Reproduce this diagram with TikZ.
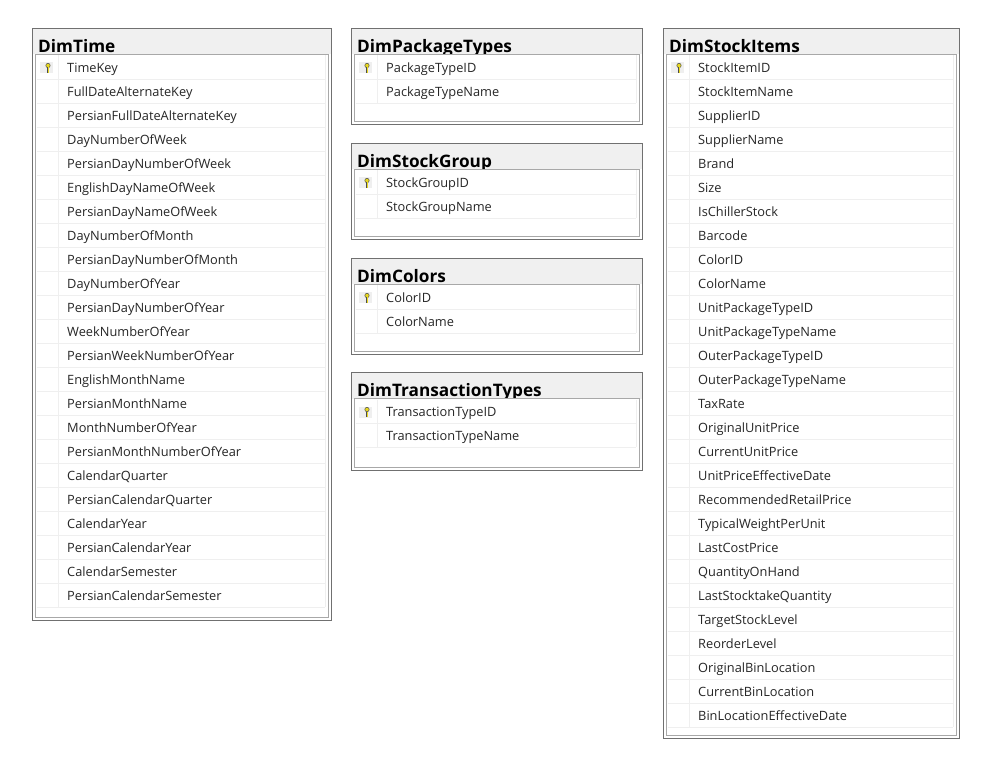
\documentclass[tikz,border=0pt]{standalone}
\usepackage{fontspec}
\setmainfont{Open Sans}
\definecolor{framedark}{HTML}{707070}
\definecolor{framelight}{HTML}{A8A8A8}
\definecolor{headgray}{HTML}{F0F0F0}
\definecolor{gridgray}{HTML}{EFEFEF}
\definecolor{keygold}{HTML}{E8D820}
\tikzset{
  outerframe/.style={draw=framedark, line width=1pt, fill=white},
  innerframe/.style={draw=framelight, line width=1pt, fill=white},
  gridline/.style={draw=gridgray, line width=1pt},
  tabletitle/.style={anchor=base west, inner sep=0pt, text=black, font=\fontsize{17.2}{17}\selectfont\bfseries},
  rowlabel/.style={anchor=base west, inner sep=0pt, text=black!85, font=\fontsize{12.8}{14}\selectfont},
}
% name, left, top, right, bottom, grid bottom, columns
\newcommand{\dimtable}[7]{
  \fill[headgray] (#2,#3) rectangle (#4,#3+26);
  \draw[outerframe, fill=none] (#2,#3) rectangle (#4,#5);
  \node[tabletitle] (#1) at (#2+5.5,#3+24) {#1};
  \draw[innerframe] (#2+3,#3+26) rectangle (#4-3,#5-3);
  % rows
  \foreach \colname [count=\i] in {#7} {
    \draw[gridline] (#2+4,#3+27+24*\i) -- (#4-6,#3+27+24*\i);
    \node[rowlabel] (#1-\i) at (#2+34.5,#3+44+24*\i-24) {\colname};
  }
  \draw[gridline] (#2+26,#3+27) -- (#2+26,#6);
  \draw[gridline] (#4-6,#3+27) -- (#4-6,#6);
  % primary key
  \fill[gridgray] (#2+7,#3+34) rectangle (#2+20,#3+45);
  \fill[keygold, draw=black!70, line width=0.5pt] (#2+15.5,#3+37) circle (2.2);
  \draw[black!70, line width=1.8pt] (#2+15.5,#3+39) -- (#2+15.5,#3+44.5);
  \draw[keygold, line width=0.8pt] (#2+15.5,#3+39) -- (#2+15.5,#3+44.5);
}
\begin{document}
\begin{tikzpicture}[x=1pt,y=-1pt]
    \useasboundingbox (0,0) rectangle (983,767);

    % Left column
    \dimtable{DimTime}{32.5}{28.5}{331}{620}{607}{TimeKey,FullDateAlternateKey,PersianFullDateAlternateKey,DayNumberOfWeek,PersianDayNumberOfWeek,EnglishDayNameOfWeek,PersianDayNameOfWeek,DayNumberOfMonth,PersianDayNumberOfMonth,DayNumberOfYear,PersianDayNumberOfYear,WeekNumberOfYear,PersianWeekNumberOfYear,EnglishMonthName,PersianMonthName,MonthNumberOfYear,PersianMonthNumberOfYear,CalendarQuarter,PersianCalendarQuarter,CalendarYear,PersianCalendarYear,CalendarSemester,PersianCalendarSemester}

    % Middle column
    \dimtable{DimPackageTypes}{351.5}{28.5}{642}{125}{103}{PackageTypeID,PackageTypeName}
    \dimtable{DimStockGroup}{351.5}{143.5}{642}{240}{218}{StockGroupID,StockGroupName}
    \dimtable{DimColors}{351.5}{258.5}{642}{355}{333}{ColorID,ColorName}
    \dimtable{DimTransactionTypes}{351.5}{372.5}{642}{470}{447}{TransactionTypeID,TransactionTypeName}

    % Right column
    \dimtable{DimStockItems}{663.5}{28.5}{959}{738.5}{727}{StockItemID,StockItemName,SupplierID,SupplierName,Brand,Size,IsChillerStock,Barcode,ColorID,ColorName,UnitPackageTypeID,UnitPackageTypeName,OuterPackageTypeID,OuterPackageTypeName,TaxRate,OriginalUnitPrice,CurrentUnitPrice,UnitPriceEffectiveDate,RecommendedRetailPrice,TypicalWeightPerUnit,LastCostPrice,QuantityOnHand,LastStocktakeQuantity,TargetStockLevel,ReorderLevel,OriginalBinLocation,CurrentBinLocation,BinLocationEffectiveDate}
\end{tikzpicture}
\end{document}
